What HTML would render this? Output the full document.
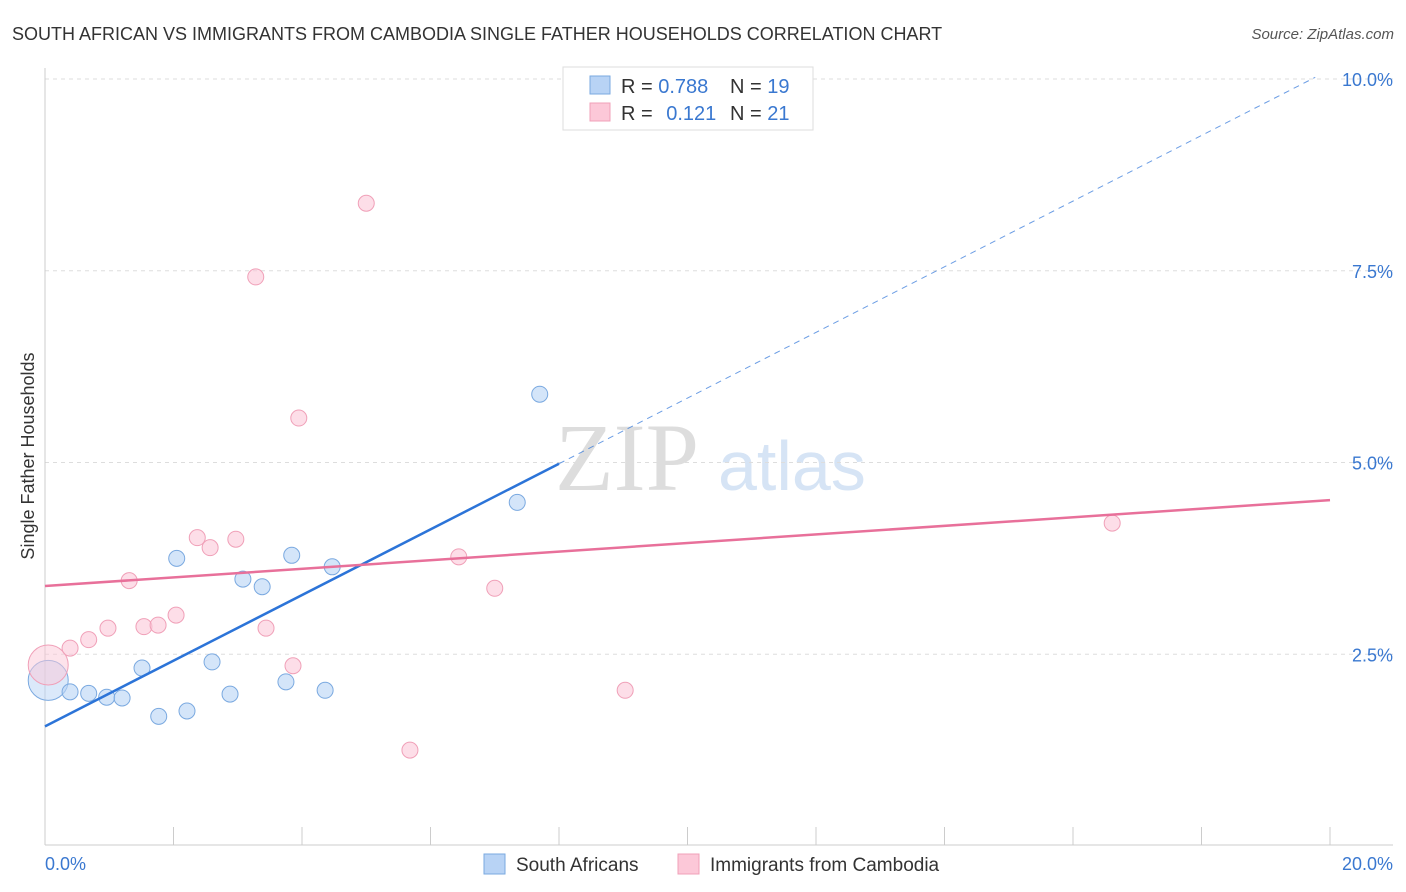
<!DOCTYPE html>
<html><head><meta charset="utf-8"><style>
body{margin:0;background:#fff;font-family:"Liberation Sans",sans-serif;}
svg{display:block}
</style></head><body>
<svg id="c" width="1406" height="892">
<text x="12" y="40" font-size="18" fill="#333">SOUTH AFRICAN VS IMMIGRANTS FROM CAMBODIA SINGLE FATHER HOUSEHOLDS CORRELATION CHART</text>
<text x="1394" y="39" font-size="15" fill="#555" font-style="italic" text-anchor="end">Source: ZipAtlas.com</text>
<text x="555" y="490" font-size="96" fill="#ddd" font-family="Liberation Serif">ZIP</text>
<text x="718" y="490" font-size="70" fill="#d6e4f5">atlas</text>
<text x="34" y="456" font-size="18" fill="#333" text-anchor="middle" transform="rotate(-90 34 456)">Single Father Households</text>
<g id="grid"></g><g id="axes"></g><g id="marks"></g>
<g>
<rect x="563" y="67" width="250" height="63" fill="#fff" stroke="#ddd"/>
<rect x="590" y="76" width="20" height="18" fill="#b8d3f5" stroke="#7aa9e0"/>
<rect x="590" y="103" width="20" height="18" fill="#fcc8d8" stroke="#f0a0b8"/>
<text x="621" y="93" font-size="20" fill="#333">R = <tspan fill="#3a78d0">0.788</tspan></text>
<text x="730" y="93" font-size="20" fill="#333">N = <tspan fill="#3a78d0">19</tspan></text>
<text x="621" y="120" font-size="20" fill="#333">R = <tspan fill="#3a78d0" dx="8">0.121</tspan></text>
<text x="730" y="120" font-size="20" fill="#333">N = <tspan fill="#3a78d0">21</tspan></text>
</g>
<g>
<rect x="484" y="854" width="21" height="20" fill="#b8d3f5" stroke="#7aa9e0"/>
<text x="516" y="871" font-size="19" fill="#333">South Africans</text>
<rect x="678" y="854" width="21" height="20" fill="#fcc8d8" stroke="#f0a0b8"/>
<text x="710" y="871" font-size="19" fill="#333">Immigrants from Cambodia</text>
</g>
</svg>
<script>
const blueX=[0.05,0.39,0.68,0.96,1.20,1.51,1.77,2.05,2.21,2.60,2.88,3.08,3.38,3.75,3.84,4.36,4.47,7.35,7.70];
const blueY=[2.16,2.01,1.99,1.94,1.93,2.32,1.69,3.75,1.76,2.40,1.98,3.48,3.38,2.14,3.79,2.03,3.64,4.48,5.89];
const pinkX=[0.05,0.39,0.68,0.98,1.31,1.54,1.76,2.04,2.37,2.57,2.97,3.28,3.44,3.86,3.95,5.00,5.68,6.44,7.00,9.03,16.61];
const pinkY=[2.36,2.58,2.69,2.84,3.46,2.86,2.88,3.01,4.02,3.89,4.00,7.42,2.84,2.35,5.58,8.38,1.25,3.77,3.36,2.03,4.21];
const blueTrend=[1.56,0.428];
const pinkTrend=[3.39,0.056];
const yTicks=[2.5,5,7.5,10];
const yTickLabels=["2.5%","5.0%","7.5%","10.0%"];
const xTicks=[2,4,6,8,10,12,14,16,18,20];
const NS="http://www.w3.org/2000/svg";
const X=v=>45+v/20*1285, Y=v=>846-v/10*767;
function mk(p,t,a){const e=document.createElementNS(NS,t);for(const k in a)e.setAttribute(k,a[k]);document.getElementById(p).appendChild(e);return e;}
yTicks.forEach((t,i)=>{
 const l=mk('grid','line',{x1:45,x2:1393,y1:Y(t),y2:Y(t),stroke:'#ddd','stroke-dasharray':'4,4'});
 
 
 const tx=mk('grid','text',{x:1393,y:Y(t)+7,'font-size':18,fill:'#3a78d0','text-anchor':'end'});
 tx.textContent=yTickLabels[i];
 
 
});
let a=mk('axes','line',{x1:45,x2:45,y1:68,y2:845,stroke:'#ccc'});


a=mk('axes','line',{x1:45,x2:1393,y1:845,y2:845,stroke:'#ccc'});


xTicks.forEach(t=>{
 const l=mk('axes','line',{x1:X(t),x2:X(t),y1:827,y2:845,stroke:'#ccc'});
 
 
});
let t0=mk('axes','text',{x:45,y:870,'font-size':18,fill:'#3a78d0'});t0.textContent='0.0%';


let t1=mk('axes','text',{x:1393,y:870,'font-size':18,fill:'#3a78d0','text-anchor':'end'});t1.textContent='20.0%';


function pts(xs,ys,fill,stroke,name){
 xs.forEach((x,i)=>{
  const c=mk('marks','circle',{cx:X(x),cy:Y(ys[i]),r:i==0?20:8,fill:fill,'fill-opacity':i==0?0.5:0.6,stroke:stroke,'stroke-width':1});
  
  
 });
}
pts(blueX,blueY,'#b8d3f5','#7aa9e0','south-african-point');
pts(pinkX,pinkY,'#fcc8d8','#f0a0b8','cambodia-point');
let l=mk('marks','line',{x1:X(0),y1:Y(blueTrend[0]),x2:X(8),y2:Y(blueTrend[0]+blueTrend[1]*8),stroke:'#2c74d8','stroke-width':2.5});


l=mk('marks','line',{x1:X(8),y1:Y(blueTrend[0]+blueTrend[1]*8),x2:X(19.77),y2:Y(blueTrend[0]+blueTrend[1]*19.77),stroke:'#2c74d8','stroke-width':1,'stroke-dasharray':'6,5','stroke-opacity':0.7});


l=mk('marks','line',{x1:X(0),y1:Y(pinkTrend[0]),x2:X(20),y2:Y(pinkTrend[0]+pinkTrend[1]*20),stroke:'#e8709a','stroke-width':2.5});


</script>
</body></html>
